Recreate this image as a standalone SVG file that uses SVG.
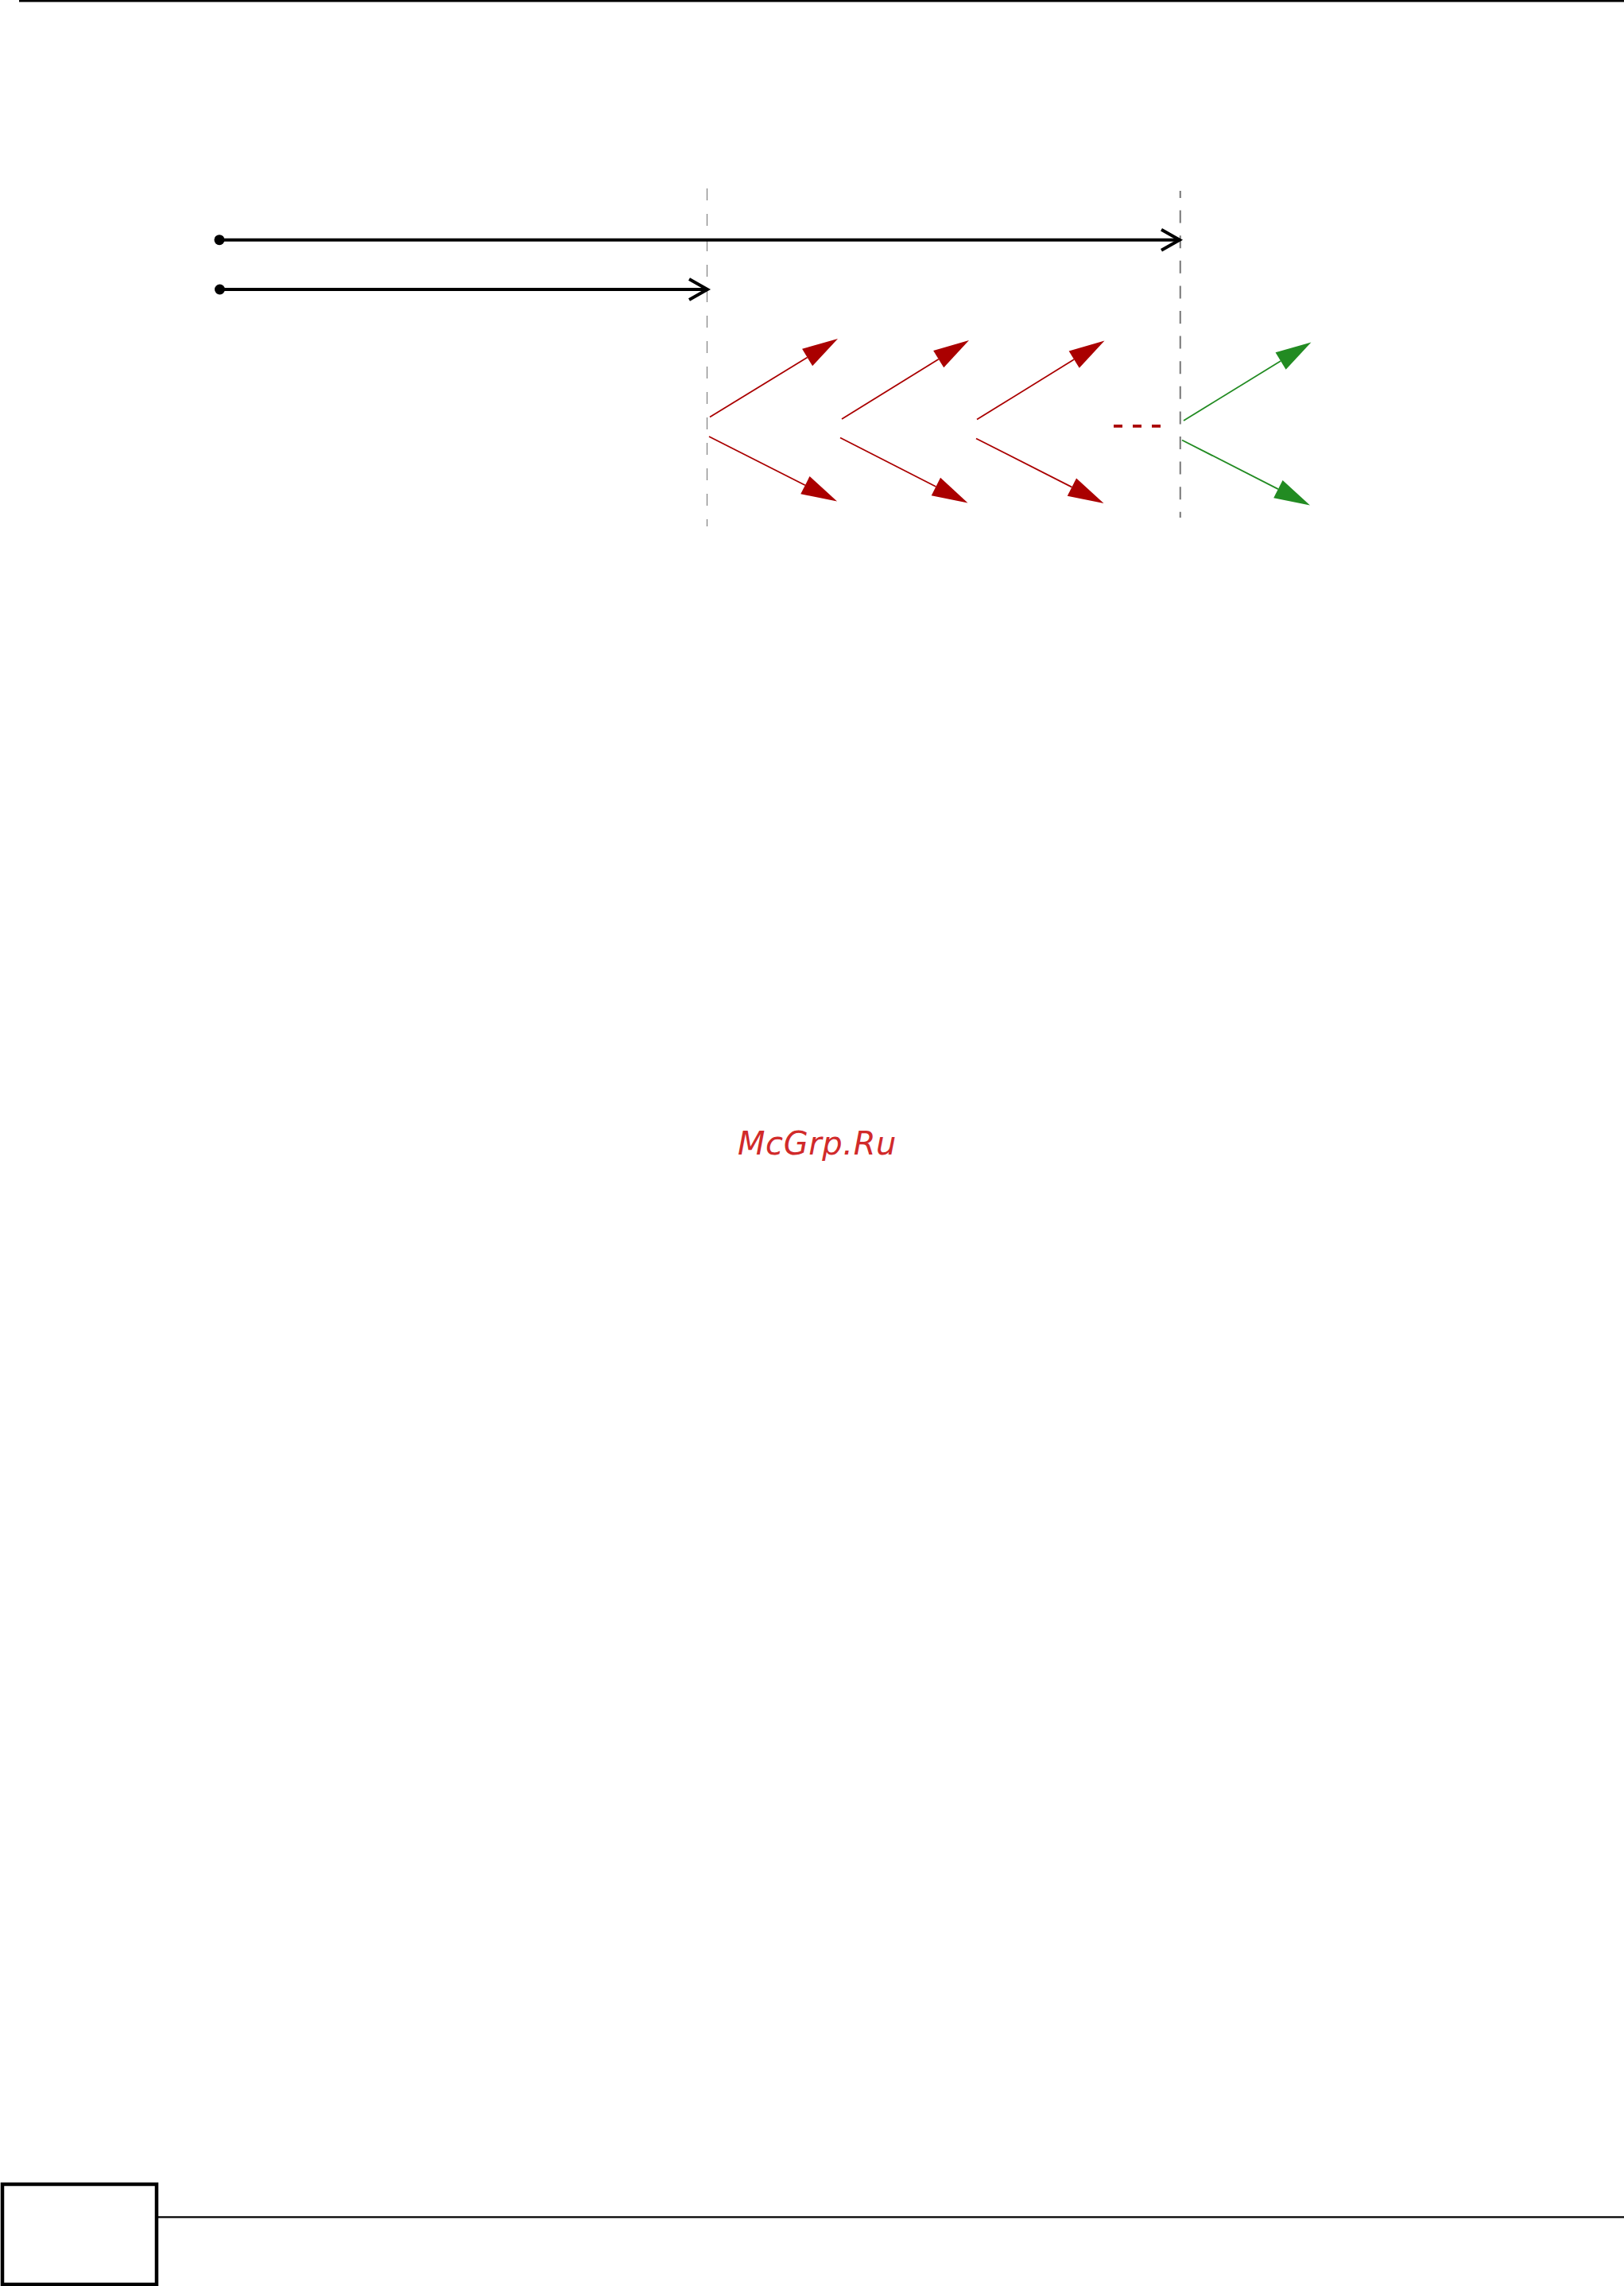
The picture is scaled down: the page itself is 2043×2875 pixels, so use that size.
<svg xmlns="http://www.w3.org/2000/svg" width="2043" height="2875" viewBox="0 0 2043 2875">
<style>
.rule{stroke:#000;fill:none}
.guide{stroke:#808080;fill:none}
.blk{stroke:#000;stroke-width:4;fill:none}
.red{stroke:#aa0000;stroke-width:1.8;fill:none}
.grn{stroke:#228b22;stroke-width:1.8;fill:none}
.wm{font-family:"DejaVu Sans",sans-serif;font-style:italic;font-size:40px;letter-spacing:0.6px;fill:#d12a2a}
</style>
<defs>
<marker id="dot" markerUnits="userSpaceOnUse" markerWidth="14" markerHeight="14" refX="7" refY="7" orient="auto" overflow="visible">
<circle cx="7" cy="7" r="6.5" fill="#000"/>
</marker>
<marker id="chev" markerUnits="userSpaceOnUse" markerWidth="26" markerHeight="28" refX="23" refY="13" orient="auto" overflow="visible">
<path d="M0,0 L23,13 L0,26" fill="none" stroke="#000" stroke-width="4"/>
</marker>
<marker id="triR" markerUnits="userSpaceOnUse" markerWidth="45" markerHeight="25" refX="0" refY="12.5" orient="auto" overflow="visible">
<path d="M0,0 L45,12.5 L0,25 z" fill="#aa0000"/>
</marker>
<marker id="triG" markerUnits="userSpaceOnUse" markerWidth="45" markerHeight="25" refX="0" refY="12.5" orient="auto" overflow="visible">
<path d="M0,0 L45,12.5 L0,25 z" fill="#228b22"/>
</marker>
</defs>
<rect width="2043" height="2875" fill="#fff"/>
<g id="page-frame">
<line class="rule" x1="24" y1="1.2" x2="2043" y2="1.2" stroke-width="2.5"/>
<rect class="rule" x="3" y="2747" width="194" height="126" stroke-width="4.5"/>
<line class="rule" x1="197" y1="2788.3" x2="2043" y2="2788.3" stroke-width="2.3"/>
</g>
<g id="guides">
<line class="guide" x1="889.5" y1="237" x2="889.5" y2="662" stroke-width="1.2" stroke-dasharray="15 17"/>
<line class="guide" x1="1484.8" y1="240" x2="1484.8" y2="651" stroke-width="2.2" stroke-dasharray="16 15.6" stroke-dashoffset="7"/>
</g>
<g id="connectors">
<line class="blk" x1="276" y1="301.7" x2="1484" y2="301.7" marker-start="url(#dot)" marker-end="url(#chev)"/>
<line class="blk" x1="276.5" y1="364" x2="890" y2="364" marker-start="url(#dot)" marker-end="url(#chev)"/>
<line class="red" x1="893" y1="524.5" x2="1015.6" y2="449.5" marker-end="url(#triR)"/>
<line class="red" x1="892" y1="549" x2="1012.9" y2="610.2" marker-end="url(#triR)"/>
<line class="red" x1="1059" y1="527" x2="1180.7" y2="451.7" marker-end="url(#triR)"/>
<line class="red" x1="1057" y1="550.5" x2="1177.4" y2="612" marker-end="url(#triR)"/>
<line class="red" x1="1229" y1="527.5" x2="1351.2" y2="452.1" marker-end="url(#triR)"/>
<line class="red" x1="1228" y1="551.5" x2="1348.4" y2="612.6" marker-end="url(#triR)"/>
<line x1="1401" y1="535.8" x2="1460" y2="535.8" stroke="#aa0000" stroke-width="3.7" stroke-dasharray="11 13"/>
<line class="grn" x1="1489" y1="529" x2="1611.1" y2="454" marker-end="url(#triG)"/>
<line class="grn" x1="1487" y1="553.5" x2="1607.9" y2="615.1" marker-end="url(#triG)"/>
</g>
<g id="watermark">
<text class="wm" x="928" y="1452">McGrp.Ru</text>
</g>
</svg>
